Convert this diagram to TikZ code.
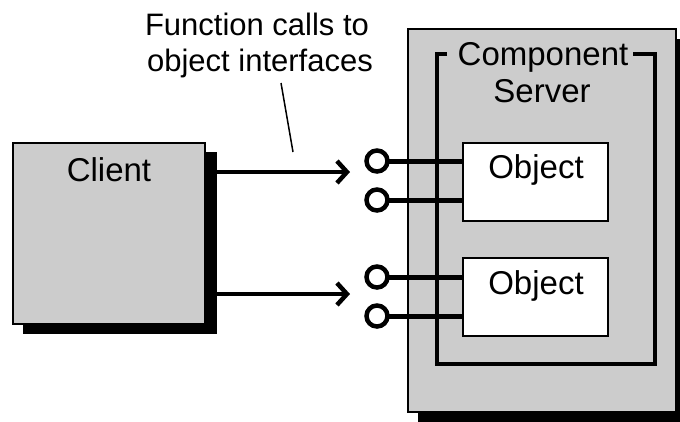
\documentclass[tikz,border=0pt]{standalone}
\usepackage{fontspec}
\setmainfont{Liberation Sans}
\usetikzlibrary{arrows.meta}
\definecolor{panelgray}{HTML}{CCCCCC}

\tikzset{
  panel/.style={draw=black, fill=panelgray, line width=1.5pt, inner sep=0pt, outer sep=0pt, anchor=north west},
  objbox/.style={draw=black, fill=white, line width=1.5pt, inner sep=0pt, outer sep=0pt, anchor=north west,
                 minimum width=145pt, minimum height=78pt},
  txt/.style={font=\fontsize{31}{37}\selectfont, inner sep=0pt, anchor=base},
  boxtxt/.style={font=\fontsize{33}{37}\selectfont, inner sep=0pt, anchor=base},
  port/.style={circle, draw=black, fill=white, line width=4.5pt, minimum size=21pt, inner sep=0pt, outer sep=0pt},
  stem/.style={line width=5pt},
  call/.style={line width=4.5pt, -{Straight Barb[length=10pt,width=22pt]}},
  frameline/.style={line width=4.5pt, line join=miter},
  pointer/.style={line width=1.5pt}
}

\begin{document}
\begin{tikzpicture}[x=1pt, y=-1pt]
\useasboundingbox (0,0) rectangle (680,421);
\clip (0,0) rectangle (680,421);

% client with drop shadow
\fill[black] (23,152) rectangle (217,334);
\node[panel, minimum width=192pt, minimum height=181pt] (client) at (13,143) {};
\node[boxtxt] (clientlabel) at (109,181) {Client};

% component server with drop shadow
\fill[black] (418,39) rectangle (690,430);
\node[panel, minimum width=268pt, minimum height=383pt] (server) at (408,29) {};
\draw[frameline] (447,54) -- (437,54) -- (437,364) -- (655,364) -- (655,54) -- (633,54);
\node[boxtxt] (servertitle) at (543,65) {Component};
\node[boxtxt] (servertitle2) at (542,102) {Server};

% objects
\node[objbox] (obj1) at (463,143) {};
\node[boxtxt] (obj1label) at (536,178) {Object};
\node[objbox] (obj2) at (463,258) {};
\node[boxtxt] (obj2label) at (536,294) {Object};

% interfaces (lollipops)
\node[port] (p1) at (377,161) {};
\node[port] (p2) at (377,200) {};
\node[port] (p3) at (377,277) {};
\node[port] (p4) at (377,316) {};
\draw[stem] (p1.east) -- (obj1.west |- p1);
\draw[stem] (p2.east) -- (obj1.west |- p2);
\draw[stem] (p3.east) -- (obj2.west |- p3);
\draw[stem] (p4.east) -- (obj2.west |- p4);

% function calls
\coordinate (t1) at (350,172);
\coordinate (t2) at (350,294);
\draw[call] (client.east |- t1) -- (t1);
\draw[call] (client.east |- t2) -- (t2);

% annotation
\node[txt] (note1) at (257,35) {Function calls to};
\node[txt] (note2) at (260,71) {object interfaces};
\coordinate (n1) at (281,83);
\coordinate (n2) at (293,152);
\draw[pointer] (n1) -- (n2);
\end{tikzpicture}
\end{document}
